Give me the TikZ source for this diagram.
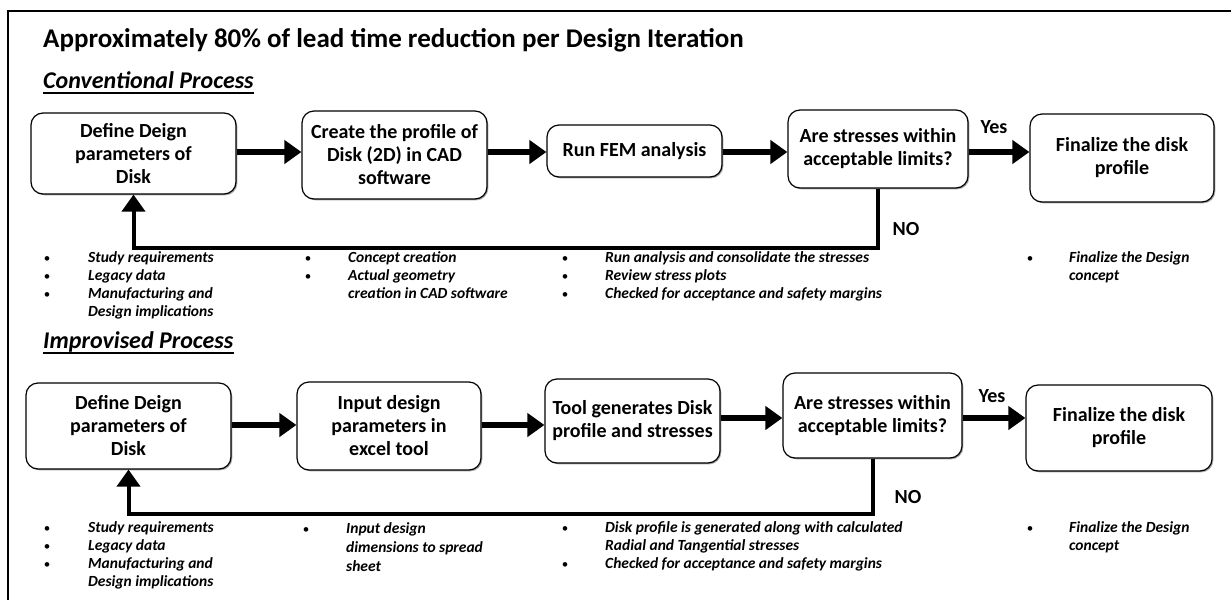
\documentclass[tikz,border=0pt]{standalone}
\usepackage{fontspec}
\setmainfont{Carlito}
\usetikzlibrary{arrows.meta,shadows}
\begin{document}
\begin{tikzpicture}[x=1pt,y=-1pt,
  box/.style={draw=black, line width=1.2pt, rounded corners=12pt, align=center, inner sep=2pt, fill=white,
    general shadow={fill=black!35, shadow xshift=1.3pt, shadow yshift=-1.3pt},
    font=\fontsize{20}{23}\selectfont\bfseries},
  flow/.style={line width=5.5pt, -{Triangle[length=17pt,width=23pt]}},
  back/.style={line width=4pt, -{Triangle[length=17pt,width=23pt]}},
  lab/.style={font=\fontsize{20}{23}\selectfont\bfseries, inner sep=0pt},
  ttl/.style={font=\fontsize{27}{32}\selectfont\bfseries, anchor=base west, inner sep=0pt},
  head/.style={font=\fontsize{24}{28}\selectfont\bfseries\itshape, anchor=base west, inner sep=0pt},
  ul/.style={line width=1.7pt},
  bt/.style={font=\fontsize{15.5}{18}\selectfont\bfseries\itshape, anchor=base west, inner sep=0pt},
  bd/.style={font=\fontsize{13}{16}\selectfont, anchor=base, inner sep=0pt},
  frame/.style={line width=2.2pt}
]
\useasboundingbox (0,0) rectangle (1231,600);
\coordinate (fb) at (8,600);
\coordinate (fc) at (8,11);
\coordinate (fr) at (1231,11);
\draw[frame] (fb) -- (fc) -- (fr);

\node[ttl] (title) at (43,47) {Approximately 80\% of lead time reduction per Design Iteration};
\node[head] (h1) at (43,88) {Conventional Process};
\draw[ul] ([yshift=-5pt]h1.base west) -- ([yshift=-5pt]h1.base east);

% Row 1
\node[box, minimum width=205pt, minimum height=81pt] (A) at (133.5,153.5) {Define Deign\\parameters of\\Disk};
\node[box, minimum width=185pt, minimum height=88pt] (B) at (394.5,155) {Create the profile of\\Disk (2D) in CAD\\software};
\node[box, minimum width=175pt, minimum height=52pt] (C) at (634.5,151) {Run FEM analysis};
\node[box, minimum width=180pt, minimum height=78pt] (D) at (878,149) {Are stresses within\\acceptable limits?};
\node[box, minimum width=184pt, minimum height=88pt] (E) at (1122,158) {Finalize the disk\\profile};
\coordinate (ay1) at (0,152);
\draw[flow] (A.east |- ay1) -- (B.west |- ay1);
\draw[flow] (B.east |- ay1) -- (C.west |- ay1);
\draw[flow] (C.east |- ay1) -- (D.west |- ay1);
\draw[flow] (D.east |- ay1) -- (E.west |- ay1);
\coordinate (r1) at (0,248);
\draw[back] (D.south) -- (D.south |- r1) -| (A.south);
\node[lab] (yes1) at (994,127) {Yes};
\node[lab] (no1) at (906,229) {NO};

% Row 1 bullets
\node[bd] (p1a) at (47,262) {•}; \node[bt] (t1a) at (88,262) {Study requirements};
\node[bd] (p1b) at (47,280) {•}; \node[bt] (t1b) at (88,280) {Legacy data};
\node[bd] (p1c) at (47,298) {•}; \node[bt] (t1c) at (88,298) {Manufacturing and};
\node[bt] (t1d) at (88,316) {Design implications};
\node[bd] (p2a) at (308,262) {•}; \node[bt] (t2a) at (348,262) {Concept creation};
\node[bd] (p2b) at (308,280) {•}; \node[bt] (t2b) at (348,280) {Actual geometry};
\node[bt] (t2c) at (348,298) {creation in CAD software};
\node[bd] (p3a) at (565,262) {•}; \node[bt] (t3a) at (605,262) {Run analysis and consolidate the stresses};
\node[bd] (p3b) at (565,280) {•}; \node[bt] (t3b) at (605,280) {Review stress plots};
\node[bd] (p3c) at (565,298) {•}; \node[bt] (t3c) at (605,298) {Checked for acceptance and safety margins};
\node[bd] (p4a) at (1030,262) {•}; \node[bt] (t4a) at (1069,262) {Finalize the Design};
\node[bt] (t4b) at (1069,280) {concept};

\node[head] (h2) at (43,348) {Improvised Process};
\draw[ul] ([yshift=-5pt]h2.base west) -- ([yshift=-5pt]h2.base east);

% Row 2
\node[box, minimum width=205pt, minimum height=86pt] (A2) at (128.5,426) {Define Deign\\parameters of\\Disk};
\node[box, minimum width=184pt, minimum height=88pt] (B2) at (389,426) {Input design\\parameters in\\excel tool};
\node[box, minimum width=175pt, minimum height=84pt] (C2) at (632.5,421) {Tool generates Disk\\profile and stresses};
\node[box, minimum width=179pt, minimum height=85pt] (D2) at (872.5,415.5) {Are stresses within\\acceptable limits?};
\node[box, minimum width=186pt, minimum height=86pt] (E2) at (1119,428) {Finalize the disk\\profile};
\coordinate (ay2) at (0,425);
\coordinate (ay3) at (0,418);
\draw[flow] (A2.east |- ay2) -- (B2.west |- ay2);
\draw[flow] (B2.east |- ay2) -- (C2.west |- ay2);
\draw[flow] (C2.east |- ay3) -- (D2.west |- ay3);
\draw[flow] (D2.east |- ay3) -- (E2.west |- ay3);
\coordinate (r2) at (0,514);
\draw[back] (D2.south) -- (D2.south |- r2) -| (A2.south);
\node[lab] (yes2) at (992,396) {Yes};
\node[lab] (no2) at (908,497) {NO};

% Row 2 bullets
\node[bd] (q1a) at (47,532) {•}; \node[bt] (s1a) at (88,532) {Study requirements};
\node[bd] (q1b) at (47,550) {•}; \node[bt] (s1b) at (88,550) {Legacy data};
\node[bd] (q1c) at (47,568) {•}; \node[bt] (s1c) at (88,568) {Manufacturing and};
\node[bt] (s1d) at (88,586) {Design implications};
\node[bd] (q2a) at (306,533) {•}; \node[bt] (s2a) at (346,533) {Input design};
\node[bt] (s2b) at (346,552) {dimensions to spread};
\node[bt] (s2c) at (346,571) {sheet};
\node[bd] (q3a) at (565,532) {•}; \node[bt] (s3a) at (605,532) {Disk profile is generated along with calculated};
\node[bt] (s3b) at (605,550) {Radial and Tangential stresses};
\node[bd] (q3c) at (565,568) {•}; \node[bt] (s3c) at (605,568) {Checked for acceptance and safety margins};
\node[bd] (q4a) at (1030,532) {•}; \node[bt] (s4a) at (1069,532) {Finalize the Design};
\node[bt] (s4b) at (1069,550) {concept};
\end{tikzpicture}
\end{document}
